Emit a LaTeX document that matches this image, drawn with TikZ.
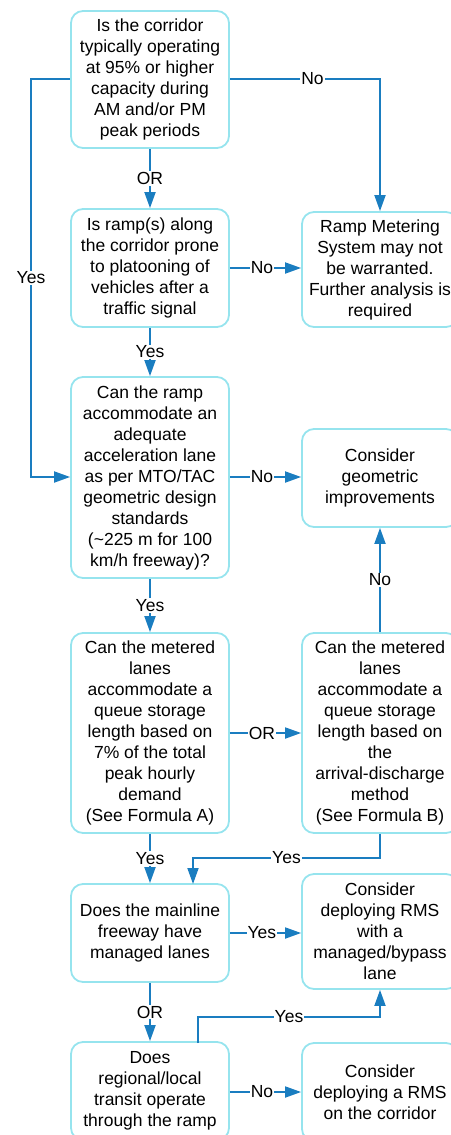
\documentclass[tikz,border=0pt]{standalone}
\usepackage{fontspec}
\setmainfont{Liberation Sans}
\usetikzlibrary{arrows.meta}
\definecolor{boxc}{HTML}{96E4EE}
\definecolor{linec}{HTML}{1A7DC0}
\tikzset{
  box/.style={draw=boxc, line width=1.8pt, rounded corners=12pt, align=center,
    font=\fontsize{17.5}{21}\selectfont, text=black, inner sep=0pt},
  lbox/.style={box, minimum width=158pt},
  rbox/.style={box, minimum width=156pt},
  conn/.style={draw=linec, line width=1.8pt, -{Triangle[length=16pt,width=11pt]}},
  lab/.style={fill=white, inner sep=1pt, font=\fontsize{17.5}{21}\selectfont, text=black}
}
\begin{document}
\begin{tikzpicture}[x=1pt,y=-1pt]
\useasboundingbox (0,0) rectangle (450,1135);
% left column
\node[lbox, minimum height=137pt] (q1) at (150,79.5) {Is the corridor\\typically operating\\at 95\% or higher\\capacity during\\AM and/or PM\\peak periods};
\node[lbox, minimum height=118pt] (q2) at (150,268) {Is ramp(s) along\\the corridor prone\\to platooning of\\vehicles after a\\traffic signal};
\node[lbox, minimum height=201pt] (q3) at (150,477.5) {Can the ramp\\accommodate an\\adequate\\acceleration lane\\as per MTO/TAC\\geometric design\\standards\\(\textasciitilde225 m for 100\\km/h freeway)?};
\node[lbox, minimum height=200pt] (q4) at (150,733) {Can the metered\\lanes\\accommodate a\\queue storage\\length based on\\7\% of the total\\peak hourly\\demand\\(See Formula A)};
\node[lbox, minimum height=98pt] (q5) at (150,933) {Does the mainline\\freeway have\\managed lanes};
\node[lbox, minimum height=98pt] (q6) at (150,1091) {Does\\regional/local\\transit operate\\through the ramp};
% right column
\node[rbox, minimum height=115pt] (rm) at (380,269.5) {Ramp Metering\\System may not\\be warranted.\\Further analysis is\\required};
\node[rbox, minimum height=98pt] (geo) at (380,478) {Consider\\geometric\\improvements};
\node[rbox, minimum height=200pt] (qb) at (380,733) {Can the metered\\lanes\\accommodate a\\queue storage\\length based on\\the\\arrival-discharge\\method\\(See Formula B)};
\node[rbox, minimum height=115pt] (byp) at (380,931.5) {Consider\\deploying RMS\\with a\\managed/bypass\\lane};
\node[rbox, minimum height=98pt] (cor) at (380,1092) {Consider\\deploying a RMS\\on the corridor};
% coordinates
\coordinate (c1a) at (380,79);
\coordinate (c1b) at (31,79);
\coordinate (c1c) at (31,477);
\coordinate (c11a) at (380,858);
\coordinate (c11b) at (193,858);
\coordinate (c11c) at (193,884);
\coordinate (c14s) at (198,1043);
\coordinate (c14a) at (198,1017);
\coordinate (c14b) at (380,1017);
% connectors
\draw[conn] (q1.south) -- node[lab]{OR} (q2.north);
\draw[conn] (q1.east |- c1a) -- node[lab, pos=0.55]{No} (c1a) -- (rm.north);
\draw[conn] (q1.west |- c1b) -- (c1b) -- node[lab, pos=0.5]{Yes} (c1c) -- (q3.west |- c1c);
\draw[conn] (q2.east) -- node[lab, pos=0.45]{No} (q2.east -| rm.west);
\draw[conn] (q2.south) -- node[lab]{Yes} (q3.north);
\draw[conn] (q3.east |- c1c) -- node[lab, pos=0.45]{No} (geo.west |- c1c);
\draw[conn] (q3.south) -- node[lab]{Yes} (q4.north);
\draw[conn] (q4.east) -- node[lab, pos=0.45]{OR} (q4.east -| qb.west);
\draw[conn] (qb.north) -- node[lab]{No} (geo.south);
\draw[conn] (q4.south) -- node[lab]{Yes} (q5.north);
\draw[conn] (qb.south) -- (c11a) -- node[lab, pos=0.5]{Yes} (c11b) -- (c11c);
\draw[conn] (q5.east |- 0,933) -- node[lab, pos=0.45]{Yes} (byp.west |- 0,933);
\draw[conn] (q5.south) -- node[lab]{OR} (q6.north);
\draw[conn] (c14s) -- (c14a) -- node[lab, pos=0.5]{Yes} (c14b) -- (byp.south);
\draw[conn] (q6.east |- 0,1092) -- node[lab, pos=0.45]{No} (cor.west |- 0,1092);
\end{tikzpicture}
\end{document}
